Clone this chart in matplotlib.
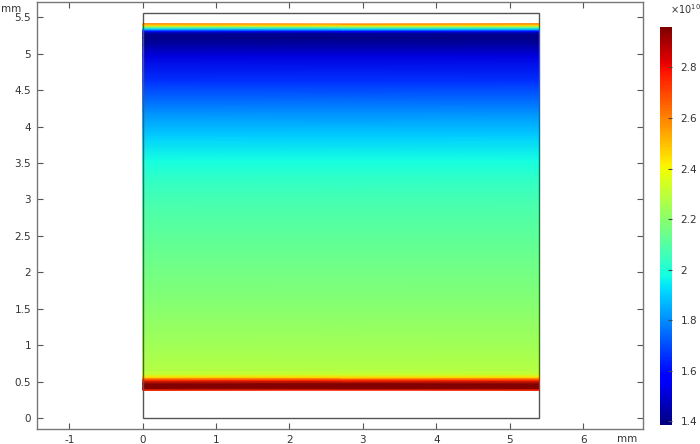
import matplotlib
matplotlib.use('Agg')
import matplotlib.pyplot as plt
import numpy as np

# profile across the layer (y in mm, value in 1e10)
y_mm = [0.38, 0.41, 0.47, 0.52, 0.56, 0.60, 0.66, 0.93, 1.61, 2.30, 2.98,
        3.32, 3.53, 3.87, 4.21, 4.62, 4.97, 5.12, 5.22, 5.28, 5.31, 5.34, 5.37, 5.39, 5.41]
val = [2.75, 2.95, 2.96, 2.75, 2.45, 2.32, 2.28, 2.25, 2.19, 2.13, 2.07,
       2.02, 1.98, 1.90, 1.80, 1.66, 1.52, 1.44, 1.40, 1.42, 1.60, 1.90, 2.20, 2.45, 2.60]
x_mm = [0.0, 5.4]
box_w, box_h = 5.4, 5.56
vmin, vmax = 1.385, 2.96

xticks = [-1, 0, 1, 2, 3, 4, 5, 6]
yticks = [0, 0.5, 1, 1.5, 2, 2.5, 3, 3.5, 4, 4.5, 5, 5.5]
cticks = [1.4, 1.6, 1.8, 2.0, 2.2, 2.4, 2.6, 2.8]

txt = '#333333'
fs = 7.5

fig = plt.figure(figsize=(7, 4.44), dpi=100)
ax = fig.add_axes([0.0524, 0.0338, 0.8662, 0.9617])

C = np.array([val, val]).T
pc = ax.pcolormesh(x_mm, y_mm, C, shading='gouraud', cmap='jet', vmin=vmin, vmax=vmax)
ax.add_patch(plt.Rectangle((0, 0), box_w, box_h, fill=False, ec='#555555', lw=1.0))

ax.set_xlim(-1.444, 6.816)
ax.set_ylim(-0.151, 5.71)
ax.set_xticks(xticks)
ax.set_yticks(yticks)
ax.set_xticklabels([str(t) for t in xticks])
ax.set_yticklabels(['%g' % t for t in yticks])
ax.tick_params(direction='in', length=4, width=0.8, colors='#555555', labelcolor=txt,
               labelsize=fs, top=True, right=True, pad=4)
for s in ax.spines.values():
    s.set_color('#777777')
    s.set_linewidth(1.0)

fig.text(0.002, 0.992, 'mm', fontsize=fs, color=txt, va='top', ha='left')
fig.text(0.91, 0.0, 'mm', fontsize=fs, color=txt, va='bottom', ha='right')

cax = fig.add_axes([0.943, 0.0428, 0.0171, 0.8963])
cb = fig.colorbar(pc, cax=cax, ticks=cticks)
cb.ax.set_yticklabels(['%g' % t for t in cticks])
cb.ax.tick_params(direction='in', length=3, width=0.8, colors='#444444', labelcolor=txt,
                  labelsize=fs, pad=6)
cb.outline.set_visible(False)
fig.text(0.957, 0.963, r'$\times10^{10}$', fontsize=7, color=txt, va='bottom', ha='left')

fig.savefig('out.png', dpi=100)
